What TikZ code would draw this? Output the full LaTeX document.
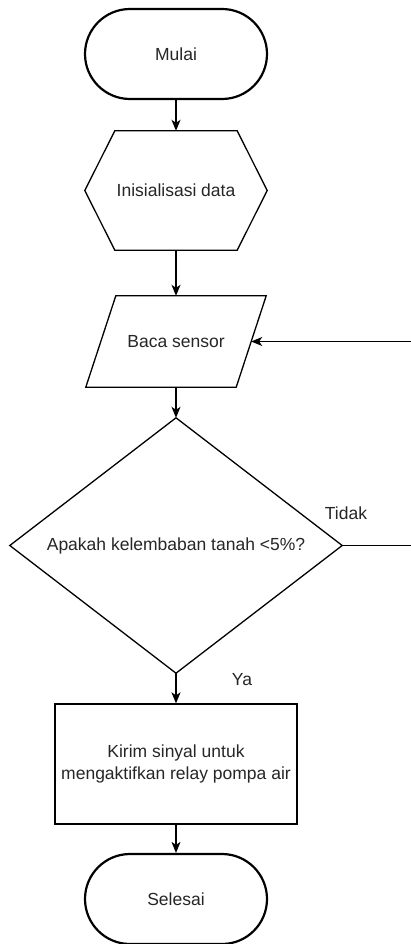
\documentclass[tikz,border=0pt]{standalone}
\usepackage{fontspec}
\setmainfont{Liberation Sans}
\usetikzlibrary{arrows.meta,calc}

\tikzset{
  lbl/.style={text=black!85, font=\fontsize{17.5}{22}\selectfont, inner sep=0pt},
  terminal/.style={lbl, draw=black, line width=2.2pt, rounded corners=45pt,
    minimum width=182pt, minimum height=90pt},
  frame/.style={lbl, minimum width=#1, minimum height=120pt},
  outline/.style={draw=black, line width=1.3pt, line join=miter},
  flow/.style={draw=black, line width=1.3pt,
    -{Stealth[length=11pt, width=9pt, inset=3pt]}},
  plain/.style={draw=black, line width=1.3pt},
}

\begin{document}
\begin{tikzpicture}[x=1pt, y=-1pt]
  \useasboundingbox (0,0) rectangle (411,944);
  \clip (0,0) rectangle (411,944);
  \fill[white] (0,0) rectangle (411,944);

  % start terminal
  \node[terminal] (start) at (176,54) {Mulai};

  % preparation hexagon
  \node[lbl, minimum width=182pt, minimum height=119pt] (init) at (176,190.5) {Inisialisasi data};
  \draw[outline] ([xshift=30pt]init.north west) -- ([xshift=-30pt]init.north east)
    -- (init.east) -- ([xshift=-30pt]init.south east)
    -- ([xshift=30pt]init.south west) -- (init.west) -- cycle;

  % input parallelogram
  \node[lbl, minimum width=180pt, minimum height=91pt] (read) at (176,341.5) {Baca sensor};
  \draw[outline] ([xshift=30pt]read.north west) -- (read.north east)
    -- ([xshift=-30pt]read.south east) -- (read.south west) -- cycle;
  \coordinate (readR) at ($(read.north east)!0.5!([xshift=-30pt]read.south east)$);

  % decision diamond
  \node[lbl, minimum width=332pt, minimum height=255pt] (dec) at (176,545.5) {Apakah kelembaban tanah <5\%?};
  \draw[outline] (dec.north) -- (dec.east) -- (dec.south) -- (dec.west) -- cycle;

  % process box
  \node[lbl, draw=black, line width=1.3pt, minimum width=242pt, minimum height=120pt,
        align=center] (act) at (176,764) {Kirim sinyal untuk\\mengaktifkan relay pompa air};

  % end terminal
  \node[terminal] (stop) at (176,899) {Selesai};

  % connectors
  \draw[flow] (start.south) -- (init.north);
  \draw[flow] (init.south) -- (read.north);
  \draw[flow] (read.south) -- (dec.north);
  \draw[flow] (dec.south) -- (act.north);
  \draw[flow] (act.south) -- (stop.north);

  % loop back when the soil is still moist
  \coordinate (loop) at (440,450);
  \draw[flow] (dec.east) -| (loop) |- (readR);

  % branch labels
  \node[lbl] (no) at (346,513) {Tidak};
  \node[lbl] (yes) at (242,680) {Ya};
\end{tikzpicture}
\end{document}
